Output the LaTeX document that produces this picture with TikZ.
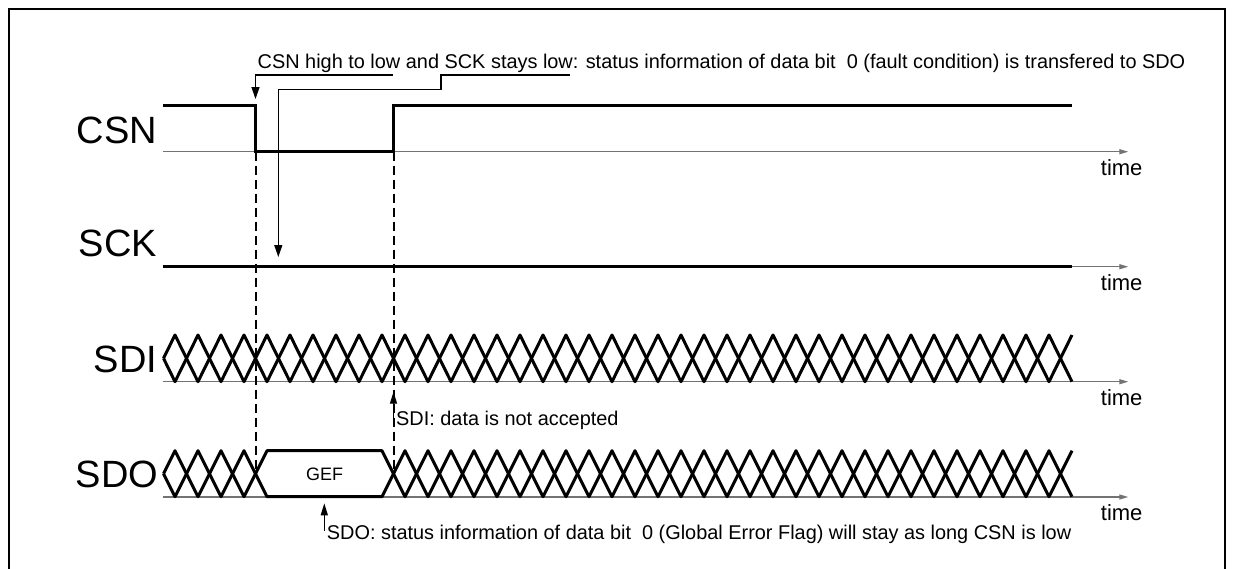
\documentclass[tikz,border=0pt]{standalone}
\usepackage{fontspec}
\setmainfont{Liberation Sans}
\usetikzlibrary{arrows.meta}
\begin{document}
\begin{tikzpicture}[x=1pt,y=-1pt,
  sig/.style={line width=3pt},
  zz/.style={line width=3pt,line join=round},
  axisline/.style={line width=1.3pt,draw=black!55,-{Triangle[length=9pt,width=5pt]}},
  guide/.style={line width=2pt,dash pattern=on 9pt off 5pt},
  callout/.style={line width=1.3pt,-{Triangle[length=12pt,width=8pt]}},
  siglabel/.style={font=\fontsize{38}{40}\selectfont,inner sep=0pt,anchor=base east},
  note/.style={font=\fontsize{19.9}{22}\selectfont,inner sep=0pt,anchor=base west},
  timelabel/.style={font=\fontsize{22}{24}\selectfont,inner sep=0pt,anchor=base west},
]
\useasboundingbox (0,0) rectangle (1234,568);
\fill[white] (0,0) rectangle (1234,568);
% frame
\draw[line width=2.3pt] (9.3,572) -- (9.3,9.3) -- (1224.7,9.3) -- (1224.7,572);

% axes
\foreach \n/\y in {csn/151.7, sck/266.7, sdi/381.7, sdo/497} {
  \coordinate (\n ax0) at (163,\y);
  \coordinate (\n ax1) at (1128.3,\y);
  \draw[axisline] (\n ax0) -- (\n ax1);
  \node[timelabel] (\n time) at (1100.7,\y+23.3) {time};
}

% labels
\node[siglabel] (lcsn) at (157,143.3) {CSN};
\node[siglabel] (lsck) at (157,256.7) {SCK};
\node[siglabel] (lsdi) at (157.5,372.5) {SDI};
\node[siglabel] (lsdo) at (158.5,487) {SDO};

% CSN
\draw[sig] (163,105) -- (255.5,105) -- (255.5,151.7) -- (393.5,151.7) -- (393.5,105) -- (1072,105);
% SCK
\draw[sig] (163,266.7) -- (1072,266.7);

% SDI bus
\draw[zz] (163.5,358.3) foreach \k in {0,...,39} { -- ({175+23*\k},{335+46.7*mod(\k,2)}) };
\draw[zz] (163.5,358.3) foreach \k in {0,...,39} { -- ({175+23*\k},{381.7-46.7*mod(\k,2)}) };

% SDO bus
\draw[zz] (163.5,473.7) foreach \k in {0,...,3} { -- ({175+23*\k},{450.7+46*mod(\k,2)}) }
   -- (255.5,473.7) -- (267,450.7) -- (382,450.7) -- (393.5,473.7)
   foreach \k in {10,...,39} { -- ({175+23*\k},{496.7-46*mod(\k,2)}) };
\draw[zz] (163.5,473.7) foreach \k in {0,...,3} { -- ({175+23*\k},{496.7-46*mod(\k,2)}) }
   -- (255.5,473.7) -- (267,496.7) -- (382,496.7) -- (393.5,473.7)
   foreach \k in {10,...,39} { -- ({175+23*\k},{450.7+46*mod(\k,2)}) };
\node[font=\fontsize{18}{20}\selectfont,inner sep=0pt] (gef) at (324.5,474) {GEF};

% dashed guides
\coordinate (g1a) at (255.5,151.7); \coordinate (g1b) at (255.5,473.7);
\coordinate (g2a) at (393.5,151.7); \coordinate (g2b) at (393.5,473.7);
\draw[guide] (g1a) -- (g1b);
\draw[guide] (g2a) -- (g2b);

% top annotation
\node[note] (topnote) at (257.5,68.3) {CSN high to low and SCK stays low: status information of data bit\ \ 0 (fault condition) is transfered to SDO};
\coordinate (c1s) at (393,75);
\coordinate (c1c) at (255.5,75);
\coordinate (c1e) at (255.5,99);
\draw[callout] (c1s) -- (c1c) -- (c1e);
\coordinate (c2s) at (570,75);
\coordinate (c2b) at (441,75);
\coordinate (c2c) at (441,89.3);
\coordinate (c2d) at (278.3,89.3);
\coordinate (c2e) at (278.3,257);
\draw[callout] (c2s) -- (c2b) -- (c2c) -- (c2d) -- (c2e);

% SDI annotation
\node[note] (sdinote) at (396,425) {SDI: data is not accepted};
\coordinate (c3s) at (393.5,425);
\coordinate (c3e) at (393.5,391.7);
\draw[callout,-{Triangle[length=12pt,width=7pt]}] (c3s) -- (c3e);

% SDO annotation
\node[note] (sdonote) at (326.7,539.3) {SDO: status information of data bit\ \ 0 (Global Error Flag) will stay as long CSN is low};
\coordinate (c4s) at (324.3,531);
\coordinate (c4e) at (324.3,503.3);
\draw[callout,-{Triangle[length=12pt,width=7pt]}] (c4s) -- (c4e);
\end{tikzpicture}
\end{document}
